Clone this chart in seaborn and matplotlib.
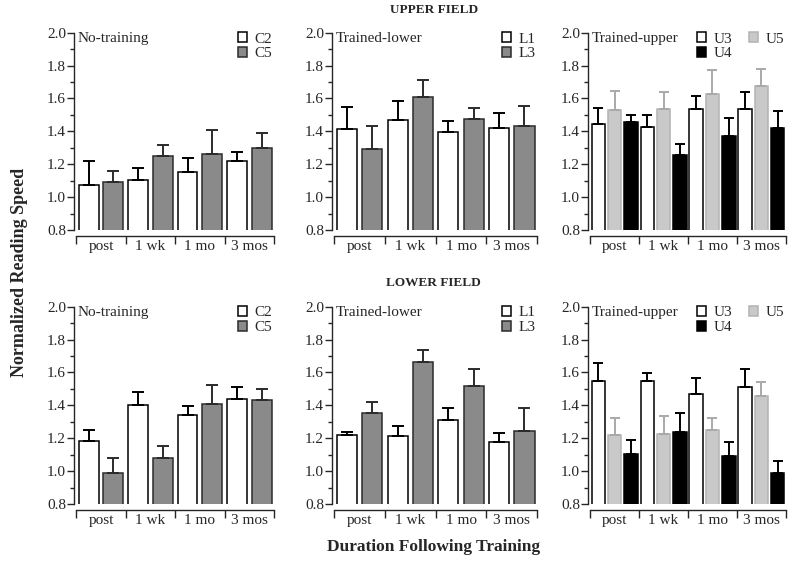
import numpy as np
import pandas as pd
import matplotlib
matplotlib.use("Agg")
import matplotlib.pyplot as plt
from matplotlib.ticker import MultipleLocator
import seaborn as sns

durations = ["post", "1 wk", "1 mo", "3 mos"]

# upper field, mean normalized reading speed and SEM
up_C2 = [1.075, 1.105, 1.15, 1.22]
up_C2_err = [0.145, 0.07, 0.09, 0.055]
up_C5 = [1.09, 1.25, 1.26, 1.30]
up_C5_err = [0.07, 0.07, 0.15, 0.09]
up_L1 = [1.415, 1.47, 1.395, 1.42]
up_L1_err = [0.135, 0.115, 0.07, 0.09]
up_L3 = [1.29, 1.61, 1.475, 1.43]
up_L3_err = [0.14, 0.10, 0.065, 0.125]
up_U3 = [1.445, 1.427, 1.534, 1.534]
up_U3_err = [0.098, 0.075, 0.082, 0.105]
up_U4 = [1.455, 1.256, 1.374, 1.419]
up_U4_err = [0.045, 0.069, 0.109, 0.103]
up_U5 = [1.53, 1.537, 1.629, 1.676]
up_U5_err = [0.115, 0.10, 0.142, 0.104]

# lower field
lo_C2 = [1.184, 1.404, 1.339, 1.44]
lo_C2_err = [0.064, 0.077, 0.059, 0.069]
lo_C5 = [0.986, 1.081, 1.406, 1.434]
lo_C5_err = [0.095, 0.073, 0.115, 0.067]
lo_L1 = [1.222, 1.212, 1.311, 1.174]
lo_L1_err = [0.016, 0.063, 0.075, 0.058]
lo_L3 = [1.354, 1.661, 1.515, 1.244]
lo_L3_err = [0.066, 0.078, 0.109, 0.138]
lo_U3 = [1.547, 1.547, 1.469, 1.509]
lo_U3_err = [0.11, 0.049, 0.099, 0.109]
lo_U4 = [1.105, 1.238, 1.093, 0.99]
lo_U4_err = [0.087, 0.116, 0.081, 0.073]
lo_U5 = [1.218, 1.226, 1.253, 1.457]
lo_U5_err = [0.105, 0.107, 0.072, 0.084]

fill = {"C2": "white", "C5": "#8a8a8a", "L1": "white", "L3": "#8a8a8a",
        "U3": "white", "U5": "#c9c9c9", "U4": "black"}
edge = {"C2": "black", "C5": "#2b2b2b", "L1": "black", "L3": "#2b2b2b",
        "U3": "black", "U5": "#b3b3b3", "U4": "black"}
errc = {"C2": "black", "C5": "#2b2b2b", "L1": "black", "L3": "#2b2b2b",
        "U3": "black", "U5": "#a9a9a9", "U4": "black"}

sns.set_style("ticks")
plt.rcParams["font.family"] = ["Liberation Serif", "DejaVu Serif"]
plt.rcParams["axes.linewidth"] = 1.0

fig = plt.figure(figsize=(8, 5.65), dpi=100)

col_x = [0.0929, 0.4154, 0.7354]
col_w = [0.2496, 0.2559, 0.2468]
row_y = [0.5929, 0.1080]
row_h = 0.3492
fs = 11

panels = [
    (0, 0, "No-training", {"C2": (up_C2, up_C2_err), "C5": (up_C5, up_C5_err)}),
    (0, 1, "Trained-lower", {"L1": (up_L1, up_L1_err), "L3": (up_L3, up_L3_err)}),
    (0, 2, "Trained-upper", {"U3": (up_U3, up_U3_err), "U4": (up_U4, up_U4_err), "U5": (up_U5, up_U5_err)}),
    (1, 0, "No-training", {"C2": (lo_C2, lo_C2_err), "C5": (lo_C5, lo_C5_err)}),
    (1, 1, "Trained-lower", {"L1": (lo_L1, lo_L1_err), "L3": (lo_L3, lo_L3_err)}),
    (1, 2, "Trained-upper", {"U3": (lo_U3, lo_U3_err), "U4": (lo_U4, lo_U4_err), "U5": (lo_U5, lo_U5_err)}),
]

for row, col, label, series in panels:
    ax = fig.add_axes([col_x[col], row_y[row], col_w[col], row_h])
    subjects = list(series.keys())
    df = pd.DataFrame([(d, s, series[s][0][i]) for s in subjects for i, d in enumerate(durations)],
                      columns=["duration", "subject", "speed"])

    three = len(subjects) == 3
    # bars go U3, U5, U4 but the legend lists U3, U4, U5
    order = ["U3", "U5", "U4"] if three else subjects
    sns.barplot(data=df, x="duration", y="speed", hue="subject", hue_order=order,
                order=durations, palette=fill, width=1.0, gap=0.17 if three else 0.2,
                errorbar=None, legend=False, ax=ax, linewidth=1.1)

    for s, cont in zip(order, ax.containers):
        vals, errs = series[s]
        xs = []
        for p in cont.patches:
            p.set_edgecolor(edge[s])
            xs.append(p.get_x() + p.get_width() / 2)
        ax.errorbar(xs, vals, yerr=[np.zeros(len(errs)), errs], fmt="none",
                    ecolor=errc[s], elinewidth=1.4, capsize=3.3 if three else 4.3,
                    capthick=1.4, zorder=1)

    ax.set_ylim(0.8, 2.0)
    ax.set_xlim(-0.54, 3.5)
    ax.yaxis.set_major_locator(MultipleLocator(0.2))
    ax.yaxis.set_minor_locator(MultipleLocator(0.1))
    ax.set_yticks(ax.get_yticks())
    ax.set_yticklabels([f"{v:.1f}" for v in ax.get_yticks()])
    ax.set_ylim(0.8, 2.0)
    ax.tick_params(axis="y", which="major", length=5, width=1.0, pad=1, labelsize=fs)
    ax.tick_params(axis="y", which="minor", length=3, width=1.0)

    ax.set_xticks([-0.5, 0.5, 1.5, 2.5, 3.5], labels=[])
    ax.set_xticks(range(len(durations)), labels=durations, minor=True)
    ax.tick_params(axis="x", which="major", length=6, width=1.0, direction="out")
    ax.tick_params(axis="x", which="minor", length=0, pad=3, labelsize=fs)
    ax.set_xlabel("")
    ax.set_ylabel("")

    sns.despine(ax=ax)
    ax.spines["bottom"].set_position(("outward", 4))
    ax.spines["bottom"].set_bounds(-0.5, 3.5)

    ax.text(0.015, 0.972, label, transform=ax.transAxes, ha="left", va="center", fontsize=fs)

    handles = {s: c for s, c in zip(order, ax.containers)}
    ax.legend([handles[s] for s in subjects], subjects, loc="upper right",
              ncol=2 if three else 1, frameon=False, fontsize=fs,
              handlelength=0.6, handleheight=0.6, handletextpad=0.5,
              labelspacing=0.1, columnspacing=1.1, borderaxespad=0.0,
              borderpad=0.1, bbox_to_anchor=(1.0, 1.01))

fig.text(0.542, 0.982, "UPPER FIELD", ha="center", va="center", fontsize=9.5, fontweight="bold")
fig.text(0.542, 0.499, "LOWER FIELD", ha="center", va="center", fontsize=9.5, fontweight="bold")
fig.text(0.025, 0.518, "Normalized Reading Speed", rotation=90, ha="center", va="center",
         fontsize=13, fontweight="bold")
fig.text(0.542, 0.032, "Duration Following Training", ha="center", va="center",
         fontsize=12.5, fontweight="bold")

fig.savefig("out.png", dpi=100)
